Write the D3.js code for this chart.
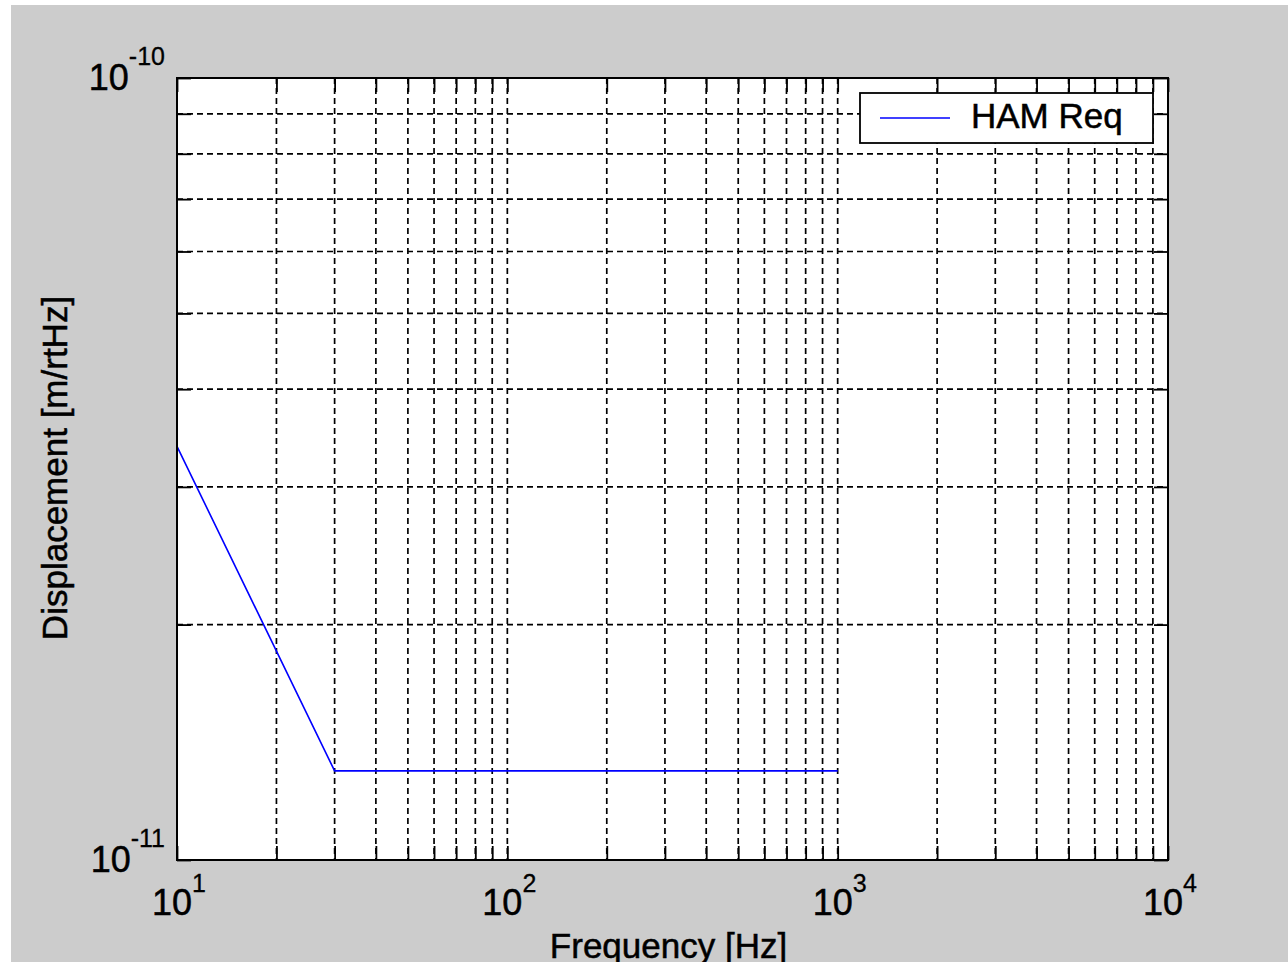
<!DOCTYPE html>
<html>
<head>
<meta charset="utf-8">
<script src="https://cdn.jsdelivr.net/npm/d3@7"></script>
<style>
  body { margin: 0; background: #fff; }
  text { font-family: "Liberation Sans", Arial, sans-serif; fill: #000; stroke: #000; stroke-width: 0.5px; }
</style>
</head>
<body>
<div id="chart"></div>
<script>
// data
var freq = [10, 30, 1000];
var disp = [3.38e-11, 1.3e-11, 1.3e-11];
var seriesName = "HAM Req";
var xMajor = [1e1, 1e2, 1e3, 1e4];
var yMajor = [1e-11, 1e-10];
var xLabel = "Frequency [Hz]";
var yLabel = "Displacement [m/rtHz]";

var W = 1288, H = 962;
var margin = {top: 78, right: 120, bottom: 102, left: 177};
var width = W - margin.left - margin.right,
    height = H - margin.top - margin.bottom;

var svg = d3.select("#chart").append("svg")
    .attr("width", W)
    .attr("height", H);

// figure background
svg.append("rect")
    .attr("x", 11).attr("y", 5)
    .attr("width", W - 11).attr("height", H - 5)
    .attr("fill", "#cccccc");

var plot = svg.append("g")
    .attr("transform", "translate(" + margin.left + "," + margin.top + ")");

var x = d3.scaleLog().domain([1e1, 1e4]).range([0, width]);
var y = d3.scaleLog().domain([1e-11, 1e-10]).range([height, 0]);

// minor + major tick positions per decade
var xTicks = [];
xMajor.forEach(function(m, i) {
    if (i < xMajor.length - 1) {
        for (var k = 1; k < 10; k++) xTicks.push(m * k);
    } else xTicks.push(m);
});
var yTicks = [];
for (var k = 1; k <= 10; k++) yTicks.push(yMajor[0] * k);

plot.append("rect")
    .attr("width", width).attr("height", height)
    .attr("fill", "#fff");

// dashed grid
plot.append("g").selectAll("line")
    .data(xTicks.filter(function(d) { return d > 10 && d < 1e4; }))
    .enter().append("line")
    .attr("x1", function(d) { return x(d); })
    .attr("x2", function(d) { return x(d); })
    .attr("y1", 0).attr("y2", height)
    .attr("stroke", "#000").attr("stroke-width", 1.7)
    .attr("stroke-dasharray", "6,4");

plot.append("g").selectAll("line")
    .data(yTicks.filter(function(d) { return d > 1.01e-11 && d < 0.99e-10; }))
    .enter().append("line")
    .attr("y1", function(d) { return y(d); })
    .attr("y2", function(d) { return y(d); })
    .attr("x1", 0).attr("x2", width)
    .attr("stroke", "#000").attr("stroke-width", 1.7)
    .attr("stroke-dasharray", "6,4");

// inward ticks on all four sides
var tl = 14;
function styleAxis(g) {
    g.select(".domain").remove();
    g.selectAll(".tick line").attr("stroke", "#000").attr("stroke-width", 1.8);
    g.selectAll(".tick text").remove();
}
plot.append("g").attr("transform", "translate(0," + height + ")")
    .call(d3.axisBottom(x).tickValues(xTicks).tickSize(-tl)).call(styleAxis);
plot.append("g")
    .call(d3.axisTop(x).tickValues(xTicks).tickSize(-tl)).call(styleAxis);
plot.append("g")
    .call(d3.axisLeft(y).tickValues(yTicks).tickSize(-tl)).call(styleAxis);
plot.append("g").attr("transform", "translate(" + width + ",0)")
    .call(d3.axisRight(y).tickValues(yTicks).tickSize(-tl)).call(styleAxis);

// the curve
var line = d3.line()
    .x(function(d) { return x(d[0]); })
    .y(function(d) { return y(d[1]); });

plot.append("path")
    .datum(d3.zip(freq, disp))
    .attr("d", line)
    .attr("fill", "none")
    .attr("stroke", "#0000ff")
    .attr("stroke-width", 1.6);

// frame
plot.append("rect")
    .attr("width", width).attr("height", height)
    .attr("fill", "none")
    .attr("stroke", "#000").attr("stroke-width", 2);

// tick labels as 10^n
function powLabel(sel, v, supDy) {
    sel.append("tspan").text("10");
    sel.append("tspan")
        .attr("dy", supDy)
        .style("font-size", "25px")
        .style("stroke-width", "0.3px")
        .text(Math.round(Math.log10(v)));
}

xMajor.forEach(function(v) {
    var t = plot.append("text")
        .attr("x", x(v) + 2)
        .attr("y", height + 55)
        .attr("text-anchor", "middle")
        .style("font-size", "36px");
    powLabel(t, v, -23);
});

yMajor.forEach(function(v) {
    var t = plot.append("text")
        .attr("x", -12)
        .attr("y", y(v) + 12)
        .attr("text-anchor", "end")
        .style("font-size", "36px");
    powLabel(t, v, -25);
});

// axis titles
svg.append("text")
    .attr("x", margin.left + width / 2 - 4)
    .attr("y", 958)
    .attr("text-anchor", "middle")
    .style("font-size", "35px")
    .text(xLabel);

svg.append("text")
    .attr("transform", "translate(67," + 468 + ") rotate(-90)")
    .attr("text-anchor", "middle")
    .style("font-size", "35px")
    .text(yLabel);

// legend
var lg = svg.append("g").attr("transform", "translate(860,93)");
lg.append("rect")
    .attr("width", 293).attr("height", 50)
    .attr("fill", "#fff")
    .attr("stroke", "#000").attr("stroke-width", 1.8);
lg.append("line")
    .attr("x1", 20).attr("x2", 90)
    .attr("y1", 25).attr("y2", 25)
    .attr("stroke", "#0000ff").attr("stroke-width", 1.6);
lg.append("text")
    .attr("x", 111).attr("y", 35)
    .style("font-size", "35px")
    .text(seriesName);
</script>
</body>
</html>
